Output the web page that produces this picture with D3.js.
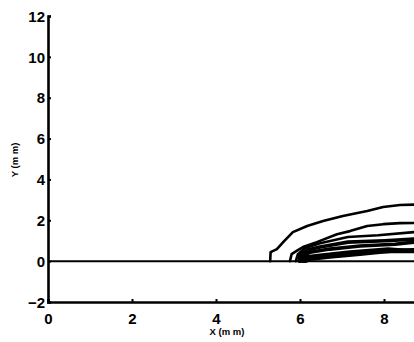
<!DOCTYPE html>
<html><head><meta charset="utf-8">
<script src="https://cdn.jsdelivr.net/npm/d3@7"></script>
<style>body{margin:0;background:#fff;overflow:hidden}</style>
</head><body><svg id="c" width="414" height="342"></svg>
<script>
const xTicks = [0, 2, 4, 6, 8];
const yTicks = [-2, 0, 2, 4, 6, 8, 10, 12];
const xLabel = "X (m m)";
const yLabel = "Y (m m)";
// contour lines [x, y] in mm
const contour1 = [[5.29,0],[5.30,0.44],[5.45,0.59],[5.60,0.93],[5.83,1.42],[6.17,1.72],[6.55,1.96],[7.02,2.21],[7.60,2.45],[7.98,2.65],[8.38,2.75],[9.0,2.78]];
const contour2 = [[5.76,0],[5.80,0.34],[5.92,0.5],[6.07,0.69],[6.40,0.93],[6.88,1.32],[7.19,1.47],[7.6,1.72],[7.98,1.81],[8.38,1.86],[9.0,1.88]];
const contour3 = [[5.90,0],[5.95,0.34],[6.12,0.64],[6.48,0.88],[7.14,1.18],[7.86,1.27],[8.71,1.42],[9.0,1.45]];
const contour4 = [[5.98,0],[6.0,0.29],[6.17,0.54],[6.48,0.69],[7.14,0.93],[8.02,1.00],[8.71,1.08],[9.0,1.1]];
const contour5 = [[6.02,0],[6.07,0.25],[6.24,0.44],[6.71,0.59],[7.43,0.74],[8.26,0.83],[8.71,0.93],[9.0,0.95]];
const contour6 = [[6.07,0],[6.12,0.20],[6.48,0.29],[7.19,0.44],[8.10,0.59],[8.71,0.49],[9.0,0.48]];
const contour7 = [[6.14,0],[6.24,0.10],[6.71,0.20],[7.43,0.34],[7.90,0.44],[8.26,0.49],[8.71,0.47],[9.0,0.47]];
const contour8 = [[6.10,0],[6.17,0.15],[6.60,0.25],[7.3,0.40],[8.0,0.52],[8.71,0.55],[9.0,0.55]];
const contours = [contour1, contour2, contour3, contour4, contour5, contour6, contour7, contour8];

const svg = d3.select("#c");
const x = d3.scaleLinear().domain([0, 10]).range([48, 468]);
const y = d3.scaleLinear().domain([-2, 12]).range([302, 16]);
const font = "'Liberation Sans', Arial, sans-serif";

// zero line
svg.append("line").attr("x1", x(0)).attr("x2", x(10)).attr("y1", y(0)).attr("y2", y(0))
  .attr("stroke", "#000").attr("stroke-width", 2);

const line = d3.line().x(d => x(d[0])).y(d => y(d[1])).curve(d3.curveLinear);
svg.append("g").selectAll("path").data(contours).join("path")
  .attr("d", line).attr("fill", "none").attr("stroke", "#000")
  .attr("stroke-width", (d, i) => i < 3 ? 2.6 : 3.6)
  .attr("stroke-linejoin", "round").attr("stroke-linecap", "round");

const xa = svg.append("g").attr("transform", `translate(0,${y(-2)})`)
  .call(d3.axisTop(x).tickValues(xTicks).tickSize(3).tickFormat(d3.format("d")));
xa.select(".domain").attr("stroke-width", 2.6);
xa.selectAll(".tick line").attr("stroke-width", 2);
xa.selectAll(".tick text").attr("y", 17).attr("dy", "0.35em")
  .attr("font-family", font).attr("font-weight", "bold").attr("font-size", 15);

const ya = svg.append("g").attr("transform", `translate(${x(0)},0)`)
  .call(d3.axisRight(y).tickValues(yTicks).tickSize(3).tickFormat(d3.format("d")));
ya.select(".domain").attr("stroke-width", 2.6);
ya.selectAll(".tick line").attr("stroke-width", 2);
ya.selectAll(".tick text").attr("x", -3).attr("text-anchor", "end").attr("dy", "0.35em")
  .attr("font-family", font).attr("font-weight", "bold").attr("font-size", 15);

svg.append("text").attr("x", 227).attr("y", 335).attr("text-anchor", "middle")
  .attr("font-family", font).attr("font-weight", "bold").attr("font-size", 9.5).text(xLabel);
svg.append("text").attr("transform", "translate(18,160) rotate(-90)").attr("text-anchor", "middle")
  .attr("font-family", font).attr("font-weight", "bold").attr("font-size", 9.5).text(yLabel);
</script></body></html>
